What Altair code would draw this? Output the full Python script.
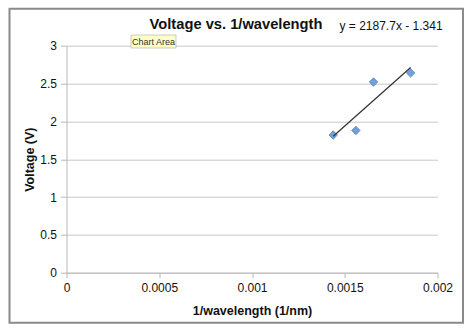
import altair as alt
import pandas as pd

inv_wavelength = [0.001438, 0.001560, 0.001655, 0.001855]
voltage = [1.82, 1.88, 2.52, 2.64]
x_ticks = [0, 0.0005, 0.001, 0.0015, 0.002]
y_ticks = [0, 0.5, 1, 1.5, 2, 2.5, 3]
title_text = "Voltage vs. 1/wavelength"
equation_text = "y = 2187.7x - 1.341"
tooltip_text = "Chart Area"

df = pd.DataFrame({"x": inv_wavelength, "y": voltage})
one = pd.DataFrame({"a": [0]})

FONT = "Liberation Sans"
W, H = 371, 227

xs = alt.Scale(domain=[0, 0.002], nice=False, zero=False)
ys = alt.Scale(domain=[0, 3], nice=False, zero=False)

x_axis = alt.Axis(values=x_ticks, tickCount=20, format="~g", grid=False, title="1/wavelength (1/nm)",
                  domainColor="#b8b8b8", tickColor="#b8b8b8", tickSize=5,
                  labelFont=FONT, labelFontSize=12, labelColor="#111", labelPadding=5,
                  labelOverlap=False,
                  titleFont=FONT, titleFontSize=12.5, titleFontWeight="bold", titleColor="#111",
                  titlePadding=11, labelFlush=False)
y_axis = alt.Axis(values=y_ticks, tickCount=20, format="~g", grid=True, gridColor="#c9c9c9",
                  title="Voltage (V)",
                  domainColor="#b8b8b8", tickColor="#b8b8b8", tickSize=6,
                  labelFont=FONT, labelFontSize=12, labelColor="#111", labelPadding=4,
                  labelOverlap=False,
                  titleFont=FONT, titleFontSize=12.5, titleFontWeight="bold", titleColor="#111",
                  titleX=-30.5)

frame = alt.Chart(one).mark_rect(fill="white", fillOpacity=0, stroke="#8a8a8a", strokeWidth=2, clip=False).encode(
    x=alt.value(-57), x2=alt.value(396.5), y=alt.value(-37), y2=alt.value(277))

points = alt.Chart(df).mark_point(shape="diamond", filled=True, size=70, fill="#72a0da",
                                  stroke="#4f7fc0", strokeWidth=0.8, opacity=1).encode(
    x=alt.X("x:Q", scale=xs, axis=x_axis),
    y=alt.Y("y:Q", scale=ys, axis=y_axis))

trend = alt.Chart(df).transform_regression("x", "y").mark_line(color="#333333", strokeWidth=1.2).encode(
    x=alt.X("x:Q", scale=xs), y=alt.Y("y:Q", scale=ys))

title = alt.Chart(one).mark_text(text=title_text, font=FONT, fontSize=14.7, fontWeight="bold",
                                 color="#111", align="center", baseline="middle").encode(
    x=alt.value(169.5), y=alt.value(-20.5))
eq = alt.Chart(one).mark_text(text=equation_text, font=FONT, fontSize=12, color="#111",
                              align="left", baseline="middle").encode(
    x=alt.value(273), y=alt.value(-20))

tip_box = alt.Chart(one).mark_rect(fill="#fdfdc8", stroke="#b0b0a0", strokeWidth=0.6).encode(
    x=alt.value(64.5), x2=alt.value(109.5), y=alt.value(-10.7), y2=alt.value(2.3))
tip_txt = alt.Chart(one).mark_text(text=tooltip_text, font=FONT, fontSize=9, color="#333",
                                   align="center", baseline="middle").encode(
    x=alt.value(87), y=alt.value(-4.2))

chart = alt.layer(frame, points, trend, title, eq, tip_box, tip_txt).properties(
    width=W, height=H,
    autosize=alt.AutoSizeParams(type="none"),
    padding={"left": 66.5, "top": 45.7, "right": 474 - 66.5 - W, "bottom": 334 - 45.7 - H},
    background="white",
).configure_view(stroke=None)

chart.save("out.html", embed_options={"renderer": "svg", "actions": False})
